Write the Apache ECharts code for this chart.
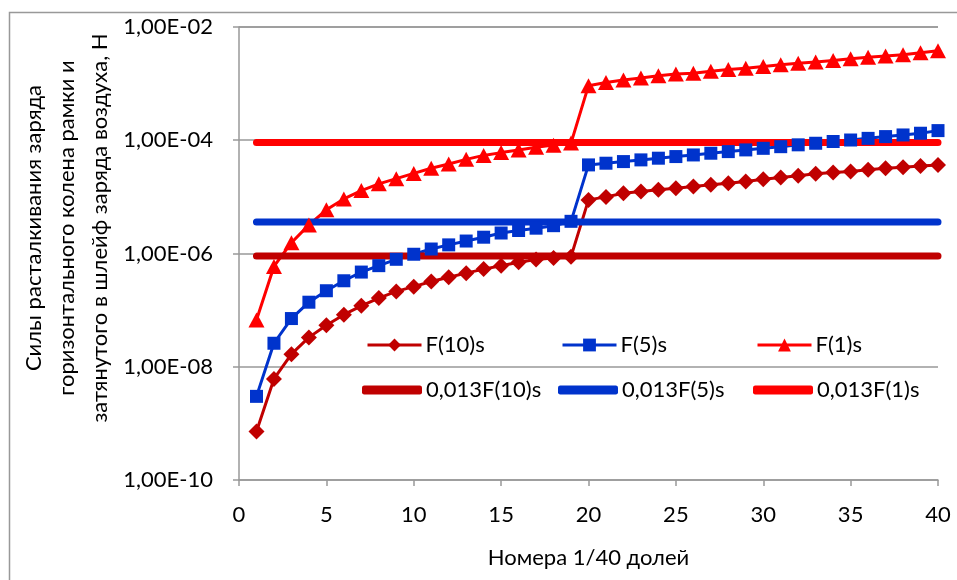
<!DOCTYPE html>
<html>
<head>
<meta charset="utf-8">
<script src="https://cdn.jsdelivr.net/npm/echarts@6/dist/echarts.min.js"></script>
<style>
  html, body { margin: 0; padding: 0; background: #fff; }
  #chart { width: 957px; height: 580px; }
</style>
</head>
<body>
<div id="chart"></div>
<script>
// номера долей (ось X)
var xs = [1, 2, 3, 4, 5, 6, 7, 8, 9, 10, 11, 12, 13, 14, 15, 16, 17, 18, 19, 20,
          21, 22, 23, 24, 25, 26, 27, 28, 29, 30, 31, 32, 33, 34, 35, 36, 37, 38, 39, 40];

// силы, Н
var f10 = [7.2e-10, 6.1e-9, 1.67e-8, 3.3e-8, 5.4e-8, 8.3e-8, 1.19e-7, 1.63e-7, 2.14e-7, 2.6e-7,
           3.2e-7, 3.8e-7, 4.5e-7, 5.3e-7, 6.1e-7, 7.0e-7, 7.8e-7, 8.3e-7, 8.8e-7, 8.85e-6,
           1.0e-5, 1.16e-5, 1.24e-5, 1.33e-5, 1.42e-5, 1.52e-5, 1.63e-5, 1.74e-5, 1.87e-5, 2.05e-5,
           2.19e-5, 2.35e-5, 2.55e-5, 2.69e-5, 2.8e-5, 3.0e-5, 3.2e-5, 3.34e-5, 3.52e-5, 3.67e-5];
var f5 = [3.0e-9, 2.6e-8, 7.1e-8, 1.38e-7, 2.2e-7, 3.3e-7, 4.7e-7, 6.1e-7, 7.9e-7, 9.7e-7,
          1.2e-6, 1.42e-6, 1.66e-6, 1.94e-6, 2.3e-6, 2.55e-6, 2.8e-6, 3.1e-6, 3.7e-6, 3.67e-5,
          3.93e-5, 4.2e-5, 4.5e-5, 4.82e-5, 5.15e-5, 5.5e-5, 5.9e-5, 6.3e-5, 6.75e-5, 7.2e-5,
          7.7e-5, 8.3e-5, 8.85e-5, 9.5e-5, 1.01e-4, 1.08e-4, 1.16e-4, 1.24e-4, 1.33e-4, 1.48e-4];
var f1 = [6.7e-8, 5.9e-7, 1.55e-6, 3.2e-6, 5.9e-6, 9.2e-6, 1.29e-5, 1.7e-5, 2.1e-5, 2.6e-5,
          3.2e-5, 3.8e-5, 4.6e-5, 5.4e-5, 6.05e-5, 6.7e-5, 7.5e-5, 8.2e-5, 8.9e-5, 9.2e-4,
          1.05e-3, 1.16e-3, 1.26e-3, 1.38e-3, 1.48e-3, 1.52e-3, 1.65e-3, 1.77e-3, 1.87e-3, 2.0e-3,
          2.16e-3, 2.29e-3, 2.41e-3, 2.55e-3, 2.76e-3, 2.92e-3, 3.08e-3, 3.25e-3, 3.52e-3, 3.82e-3];

// уровни 0,013F (постоянные)
var lim10 = 9e-7;
var lim5 = 3.6e-6;
var lim1 = 9.1e-5;

var yTicks = ['1,00E-10', '1,00E-08', '1,00E-06', '1,00E-04', '1,00E-02'];

var names = ['F(10)s', 'F(5)s', 'F(1)s', '0,013F(10)s', '0,013F(5)s', '0,013F(1)s'];

var cDark = '#C00000', cBlue = '#0033CC', cRed = '#FF0000';
var font = 'Lato';
var fs = 22;

function pairs(arr) {
    return xs.map(function (x, i) { return [x, arr[i]]; });
}
function flat(v) {
    return xs.map(function (x) { return [x, v]; });
}

var chart = echarts.init(document.getElementById('chart'));

// легенды - каждая позиция отдельно, как в Excel
function legendAt(name, left, top, thick) {
    var l = {
        data: [name],
        left: left,
        top: top,
        itemGap: 0,
        textStyle: { fontFamily: font, fontSize: fs, color: '#000', padding: [0, 0, 0, -1] },
        selectedMode: false
    };
    if (thick) {
        l.icon = 'roundRect';
        l.itemWidth = 60;
        l.itemHeight = 9;
    } else {
        l.itemWidth = 54;
        l.itemHeight = 16;
        l.lineStyle = { width: 3 };
    }
    return l;
}

var option = {
    animation: false,
    backgroundColor: '#fff',
    grid: { left: 239, right: 19, top: 27, bottom: 100, containLabel: false },
    legend: [
        legendAt(names[0], 361, 329, false),
        legendAt(names[1], 556, 329, false),
        legendAt(names[2], 751, 329, false),
        legendAt(names[3], 357, 374, true),
        legendAt(names[4], 553, 374, true),
        legendAt(names[5], 748, 374, true)
    ],
    xAxis: {
        type: 'value',
        min: 0,
        max: 40,
        interval: 5,
        name: 'Номера 1/40 долей',
        nameLocation: 'middle',
        nameGap: 67,
        nameTextStyle: { fontFamily: font, fontSize: fs, color: '#000' },
        axisLine: { lineStyle: { color: '#999', width: 1.5 } },
        axisTick: { show: true, length: 6, lineStyle: { color: '#999', width: 1.5 } },
        axisLabel: { fontFamily: font, fontSize: fs, color: '#000', margin: 24 },
        splitLine: { show: false }
    },
    yAxis: {
        type: 'log',
        logBase: 100,
        min: 1e-10,
        max: 1e-2,
        axisLine: { show: true, lineStyle: { color: '#999', width: 1.5 } },
        axisTick: { show: true, length: 6, lineStyle: { color: '#999', width: 1.5 } },
        axisLabel: {
            fontFamily: font, fontSize: fs, color: '#000', margin: 26,
            formatter: function (v) {
                var e = Math.round(Math.log10(v));
                return yTicks[(e + 10) / 2];
            }
        },
        splitLine: { show: true, lineStyle: { color: '#999', width: 1.5 } }
    },
    graphic: [
        {
            type: 'rect',
            shape: { x: 9.5, y: 12.5, width: 1000, height: 1000 },
            style: { fill: 'none', stroke: '#999', lineWidth: 1.5 },
            silent: true
        },
        {
            type: 'text',
            x: 67,
            y: 228,
            rotation: Math.PI / 2,
            style: {
                text: 'Силы расталкивания заряда\nгоризонтального колена рамки и\nзатянутого в шлейф заряда воздуха, Н',
                fontFamily: font,
                fontSize: fs,
                lineHeight: 33,
                fill: '#000',
                align: 'center',
                verticalAlign: 'middle'
            }
        }
    ],
    series: [
        {
            name: names[0], type: 'line', data: pairs(f10),
            symbol: 'diamond', symbolSize: 16,
            lineStyle: { color: cDark, width: 3 }, itemStyle: { color: cDark }
        },
        {
            name: names[1], type: 'line', data: pairs(f5),
            symbol: 'rect', symbolSize: 13,
            lineStyle: { color: cBlue, width: 3 }, itemStyle: { color: cBlue }
        },
        {
            name: names[2], type: 'line', data: pairs(f1),
            symbol: 'triangle', symbolSize: [16, 15],
            lineStyle: { color: cRed, width: 3 }, itemStyle: { color: cRed }
        },
        {
            name: names[3], type: 'line', data: flat(lim10), z: 3,
            showSymbol: false, symbol: 'none',
            lineStyle: { color: cDark, width: 7, cap: 'round' }, itemStyle: { color: cDark }
        },
        {
            name: names[4], type: 'line', data: flat(lim5), z: 3,
            showSymbol: false, symbol: 'none',
            lineStyle: { color: cBlue, width: 7, cap: 'round' }, itemStyle: { color: cBlue }
        },
        {
            name: names[5], type: 'line', data: flat(lim1), z: 3,
            showSymbol: false, symbol: 'none',
            lineStyle: { color: cRed, width: 7, cap: 'round' }, itemStyle: { color: cRed }
        }
    ]
};

chart.setOption(option);
</script>
</body>
</html>
